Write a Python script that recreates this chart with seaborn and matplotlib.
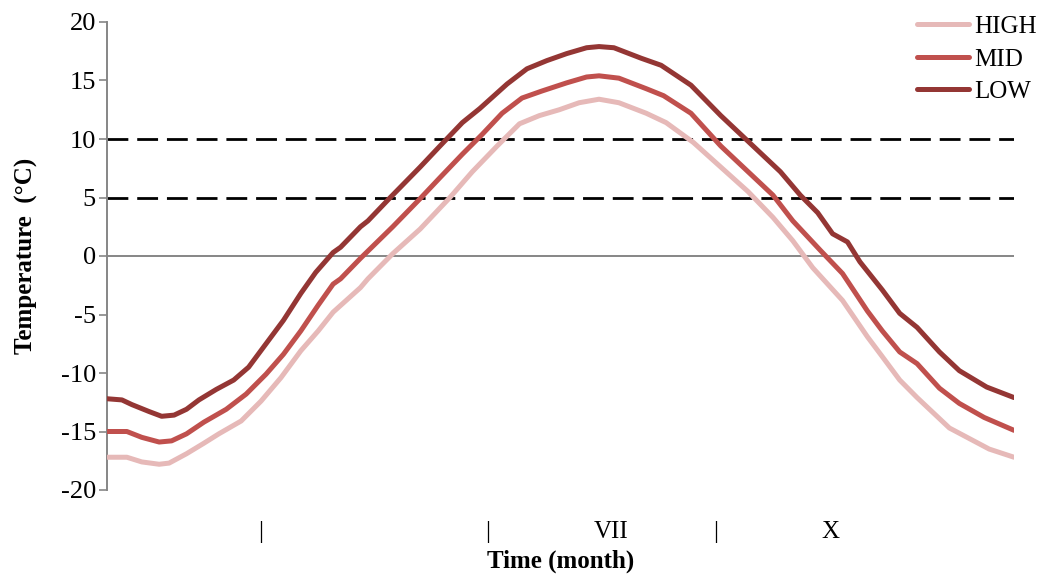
import matplotlib
matplotlib.use("Agg")
import matplotlib.pyplot as plt
import seaborn as sns
import pandas as pd

# dane (dzień roku, temperatura)
low_days = [0, 6, 10, 17, 22, 27, 32, 37, 44, 51, 57, 64, 71, 78, 84, 91, 94, 102, 105, 114,
            126, 134, 143, 150, 161, 169, 177, 185, 193, 198, 204, 215, 223, 235, 247, 259,
            271, 279, 286, 292, 298, 303, 312, 319, 326, 335, 343, 354, 365]
low_temp = [-12.2, -12.3, -12.7, -13.3, -13.7, -13.6, -13.1, -12.3, -11.4, -10.6, -9.5, -7.5,
            -5.5, -3.2, -1.4, 0.3, 0.75, 2.5, 3.0, 5.0, 7.6, 9.4, 11.4, 12.6, 14.7, 16.0, 16.7,
            17.3, 17.8, 17.9, 17.8, 16.9, 16.3, 14.6, 12.0, 9.6, 7.2, 5.2, 3.7, 1.9, 1.2, -0.5,
            -2.9, -4.9, -6.1, -8.2, -9.8, -11.2, -12.1]

mid_days = [0, 8, 14, 21, 26, 32, 39, 48, 56, 64, 71, 78, 85, 91, 94, 102, 115, 126, 134, 143,
            151, 159, 167, 175, 185, 193, 198, 206, 217, 224, 235, 247, 259, 268, 276, 287,
            296, 306, 312, 319, 326, 335, 343, 353, 365]
mid_temp = [-15.0, -15.0, -15.5, -15.9, -15.8, -15.2, -14.2, -13.1, -11.8, -10.1, -8.4, -6.4,
            -4.2, -2.4, -1.95, -0.2, 2.5, 4.9, 6.7, 8.7, 10.4, 12.2, 13.5, 14.1, 14.8, 15.3,
            15.4, 15.2, 14.3, 13.7, 12.2, 9.4, 7.0, 5.2, 3.0, 0.5, -1.5, -4.7, -6.4, -8.2, -9.2,
            -11.3, -12.6, -13.8, -14.9]

high_days = [0, 8, 14, 21, 25, 32, 39, 45, 54, 62, 70, 78, 85, 91, 102, 105, 115, 126, 138,
             147, 157, 166, 174, 182, 190, 198, 206, 217, 225, 236, 247, 258, 268, 276, 284,
             296, 306, 312, 319, 326, 339, 355, 365]
high_temp = [-17.2, -17.2, -17.6, -17.8, -17.7, -16.9, -16.0, -15.2, -14.1, -12.4, -10.4, -8.1,
             -6.4, -4.8, -2.7, -1.95, 0.2, 2.3, 5.0, 7.2, 9.4, 11.3, 12.0, 12.5, 13.1, 13.4,
             13.1, 12.2, 11.4, 9.7, 7.6, 5.5, 3.3, 1.3, -1.0, -3.8, -6.9, -8.6, -10.6, -12.1,
             -14.7, -16.5, -17.2]

thresholds = [10, 5]
month_pos = [62, 153, 203, 245, 291]
month_labels = ["|", "|", "VII", "|", "X"]
y_ticks = [-20, -15, -10, -5, 0, 5, 10, 15, 20]

sns.set_style("white")
plt.rcParams['font.family'] = ['Liberation Serif', 'DejaVu Serif']
plt.rcParams['axes.unicode_minus'] = False
plt.rcParams['text.color'] = 'black'
plt.rcParams['axes.labelcolor'] = 'black'
plt.rcParams['xtick.color'] = 'black'
plt.rcParams['ytick.color'] = 'black'

fig = plt.figure(figsize=(10.43, 5.76), dpi=100)
ax = fig.add_axes([107 / 1043, 1 - 490 / 576, 907 / 1043, 468 / 576])

grey = '#868686'
ax.axhline(0, color=grey, lw=1.4, zorder=1)
for t in thresholds:
    ax.axhline(t, color='black', lw=2.0, linestyle=(0, (7.5, 3.2)), zorder=1)

series = [("HIGH", high_days, high_temp, '#E6B9B8'),
          ("MID", mid_days, mid_temp, '#C0504D'),
          ("LOW", low_days, low_temp, '#943634')]
for name, d, t, c in series:
    df = pd.DataFrame({'day': d, 'temp': t})
    sns.lineplot(data=df, x='day', y='temp', ax=ax, color=c, lw=3.6,
                 label=name, zorder=3, solid_capstyle='round')

ax.set_xlim(0, 365)
ax.set_ylim(-20, 20)
ax.set_yticks(y_ticks)
ax.set_xticks(month_pos, month_labels)
ax.tick_params(axis='y', length=6, width=1.2, color=grey, direction='out',
               labelsize=19, pad=2, left=True, labelcolor='black')
ax.tick_params(axis='x', length=0, labelsize=18, pad=22, labelcolor='black')

for s in ['top', 'right', 'bottom']:
    ax.spines[s].set_visible(False)
ax.spines['left'].set_color(grey)
ax.spines['left'].set_linewidth(1.4)

ax.set_xlabel('Time (month)', fontsize=18, fontweight='bold', labelpad=5)
ax.set_ylabel('Temperature  (°C)', fontsize=18, fontweight='bold', labelpad=16)

ax.legend(frameon=False, loc='upper right', bbox_to_anchor=(1.036, 1.035),
          borderaxespad=0, fontsize=18, handlelength=2.1, handletextpad=0.2,
          labelspacing=0.4)

plt.savefig('out.png', dpi=100)
